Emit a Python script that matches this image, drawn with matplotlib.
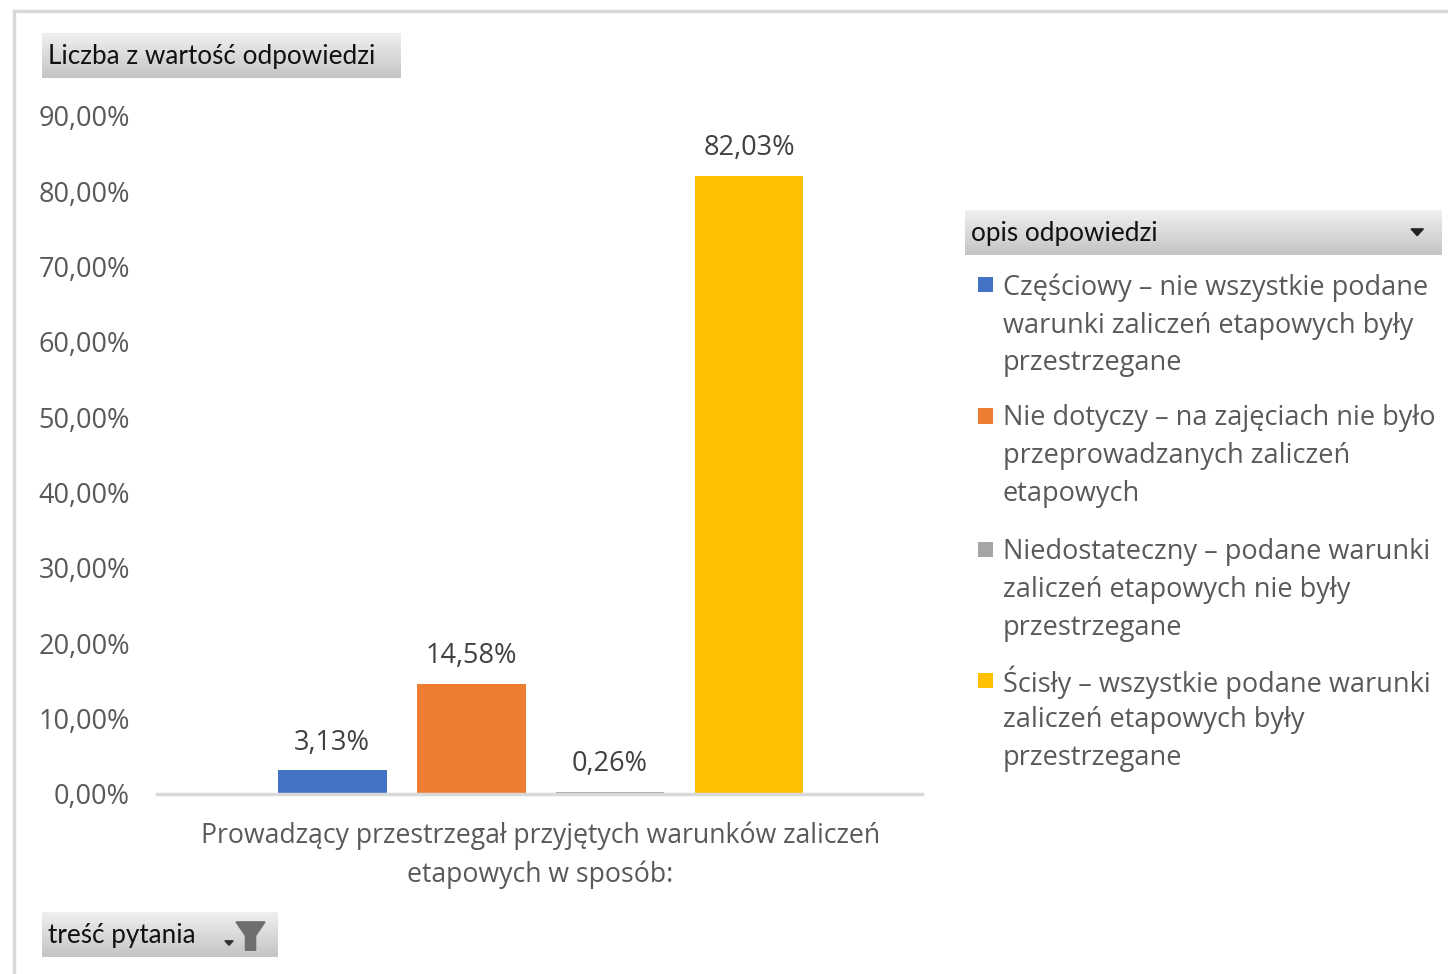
import matplotlib
matplotlib.use("Agg")
import matplotlib.pyplot as plt
import numpy as np
from matplotlib.patches import Polygon, Rectangle
from matplotlib.colors import LinearSegmentedColormap

plt.rcParams['font.family'] = ['Open Sans', 'DejaVu Sans']

# ---- data ----
series_names = [
    ["Częściowy – nie wszystkie podane", "warunki zaliczeń etapowych były", "przestrzegane"],
    ["Nie dotyczy – na zajęciach nie było", "przeprowadzanych zaliczeń", "etapowych"],
    ["Niedostateczny – podane warunki", "zaliczeń etapowych nie były", "przestrzegane"],
    ["Ścisły – wszystkie podane warunki", "zaliczeń etapowych były", "przestrzegane"],
]
values = [3.13, 14.58, 0.26, 82.03]
colors = ["#4472C4", "#ED7D31", "#A5A5A5", "#FFC000"]
category = "Prowadzący przestrzegał przyjętych warunków zaliczeń\netapowych w sposób:"
yticks = [0, 10, 20, 30, 40, 50, 60, 70, 80, 90]
value_button = "Liczba z wartość odpowiedzi"
legend_title = "opis odpowiedzi"
filter_button = "treść pytania"

W, H = 1448, 974
FS = 19.5
fig = plt.figure(figsize=(W / 100, H / 100), dpi=100)
fig.patch.set_facecolor("white")

def px(x0, y0, x1, y1):
    return [x0 / W, 1 - y1 / H, (x1 - x0) / W, (y1 - y0) / H]

# outer border (top & left visible)
border = fig.add_axes(px(14, 11, W + 20, H + 20))
border.set_xticks([]); border.set_yticks([])
border.set_facecolor("none")
for s in border.spines.values():
    s.set_color("#d9d9d9"); s.set_linewidth(2.5)

ax = fig.add_axes(px(157, 116, 922, 794))
n = len(values)
offsets = np.arange(n) - (n - 1) / 2
bw = 0.784
bars = ax.bar(offsets, values, width=bw, color=colors, zorder=3)
for b, v in zip(bars, values):
    ax.annotate(f"{v:.2f}%".replace(".", ","), (b.get_x() + b.get_width() / 2, v),
                xytext=(0, 10), textcoords="offset points",
                ha="center", va="bottom", fontsize=FS, color="#404040")
ax.set_xlim(-2.76, 2.745)
ax.set_ylim(0, 90)
ax.set_yticks(yticks)
ax.set_yticklabels([f"{t:.2f}%".replace(".", ",") for t in yticks])
ax.tick_params(axis="y", length=0, pad=19.4, labelsize=FS, labelcolor="#595959")
ax.set_xticks([0])
ax.set_xticklabels([category], fontsize=19.2, color="#595959", linespacing=1.5)
ax.tick_params(axis="x", length=0, pad=19.5)
for s in ["top", "right", "left"]:
    ax.spines[s].set_visible(False)
ax.spines["bottom"].set_color("#d9d9d9")
ax.spines["bottom"].set_linewidth(2.5)
ax.spines["bottom"].set_zorder(4)

# gradient buttons
grad = np.linspace(0, 1, 64).reshape(-1, 1)
cmap = LinearSegmentedColormap.from_list("btn", ["#f0f0f0", "#c4c4c4"])

def button(x0, y0, x1, y1):
    bax = fig.add_axes(px(x0, y0, x1, y1))
    bax.imshow(grad, aspect="auto", cmap=cmap, extent=(0, 1, 0, 1), origin="upper")
    bax.set_xlim(0, 1); bax.set_ylim(0, 1)
    bax.axis("off")
    return bax

BFS = 18.8
b1 = button(42, 33, 401, 78)
b1.text(6 / 359, 0.47, value_button, va="center", ha="left", fontsize=BFS,
        family="Lato", color="#111111")

b2 = button(965, 210, 1441, 255)
b2.text(6 / 476, 0.47, legend_title, va="center", ha="left", fontsize=BFS,
        family="Lato", color="#111111")
b2.add_patch(Polygon([[0.937, 0.58], [0.963, 0.58], [0.95, 0.43]], closed=True,
                     color="#222222"))

b3 = button(42, 912, 278, 957)
b3.text(6 / 236, 0.47, filter_button, va="center", ha="left", fontsize=BFS,
        family="Lato", color="#111111")
b3.add_patch(Polygon([[0.822, 0.78], [0.945, 0.78], [0.905, 0.47], [0.905, 0.15],
                      [0.862, 0.15], [0.862, 0.47]], closed=True, color="#6e6e6e"))
b3.add_patch(Polygon([[0.775, 0.36], [0.81, 0.36], [0.7925, 0.26]], closed=True, color="#333333"))

# legend (manual, Excel-style: marker aligned with first line)
entry_y = [284, 415, 548, 679]
line_step = 38
for lines, c, y0 in zip(series_names, colors, entry_y):
    fig.patches.append(Rectangle((978 / W, 1 - (y0 + 8.5) / H), 15 / W, 15 / H,
                                 transform=fig.transFigure, facecolor=c, edgecolor="none"))
    for i, ln in enumerate(lines):
        fig.text(1003 / W, 1 - (y0 + i * line_step) / H, ln, ha="left", va="center_baseline",
                 fontsize=FS, color="#595959")

fig.savefig("out.png", dpi=100)
